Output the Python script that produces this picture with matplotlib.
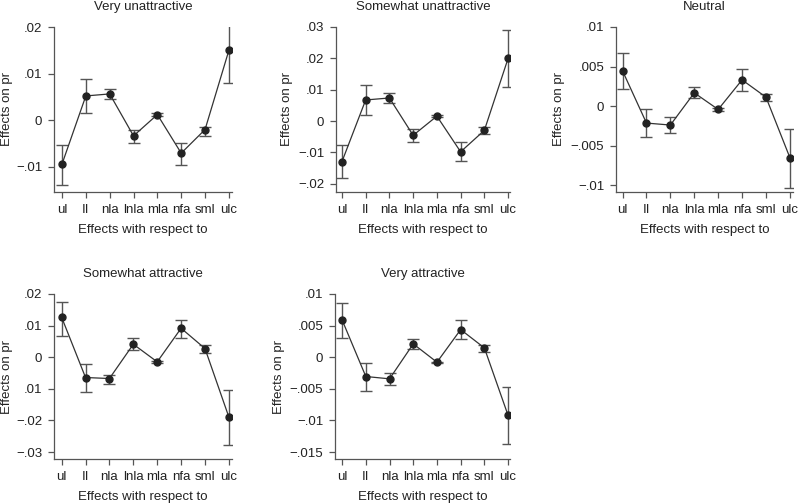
import matplotlib.pyplot as plt

plt.rcParams['font.family'] = ['Liberation Sans', 'DejaVu Sans']

categories = ["ul", "ll", "nla", "lnla", "mla", "nfa", "sml", "ulc"]
cat_labels = ["ul", "ll", "nla", "lnla", "mla", "nfa", "sml", "ulc"]
cat_labels[1] = "II"

titles = ["Very unattractive", "Somewhat unattractive", "Neutral",
          "Somewhat attractive", "Very attractive"]

# point estimates and confidence bounds
very_unattr = [-0.00943, 0.00521, 0.00564, -0.00336, 0.00121, -0.00707, -0.00200, 0.01500]
very_unattr_lo = [-0.01386, 0.00164, 0.00457, -0.00479, 0.00093, -0.00964, -0.00329, 0.00793]
very_unattr_hi = [-0.00529, 0.00893, 0.00679, -0.00200, 0.00150, -0.00493, -0.00136, 0.02214]

some_unattr = [-0.01295, 0.00674, 0.00737, -0.00453, 0.00158, -0.00979, -0.00295, 0.02000]
some_unattr_lo = [-0.01821, 0.00179, 0.00589, -0.00674, 0.00116, -0.01284, -0.00421, 0.01074]
some_unattr_hi = [-0.00758, 0.01158, 0.00884, -0.00242, 0.00210, -0.00663, -0.00179, 0.02905]

neutral = [0.00445, -0.00214, -0.00239, 0.00168, -0.00042, 0.00332, 0.00113, -0.00651]
neutral_lo = [0.00218, -0.00386, -0.00336, 0.00097, -0.00063, 0.00185, 0.00059, -0.01038]
neutral_hi = [0.00672, -0.00038, -0.00143, 0.00244, -0.00021, 0.00471, 0.00155, -0.00286]

some_attr = [0.01263, -0.00642, -0.00674, 0.00411, -0.00147, 0.00916, 0.00274, -0.01895]
some_attr_lo = [0.00674, -0.01105, -0.00863, 0.00242, -0.00179, 0.00611, 0.00147, -0.02768]
some_attr_hi = [0.01758, -0.00200, -0.00558, 0.00611, -0.00116, 0.01189, 0.00389, -0.01032]

very_attr = [0.00589, -0.00305, -0.00342, 0.00211, -0.00079, 0.00437, 0.00147, -0.00921]
very_attr_lo = [0.00300, -0.00537, -0.00442, 0.00132, -0.00095, 0.00284, 0.00084, -0.01374]
very_attr_hi = [0.00858, -0.00089, -0.00242, 0.00295, -0.00068, 0.00589, 0.00200, -0.00474]

yticks = [
    [0.02, 0.01, 0, -0.01],
    [0.03, 0.02, 0.01, 0, -0.01, -0.02],
    [0.01, 0.005, 0, -0.005, -0.01],
    [0.02, 0.01, 0, -0.01, -0.02, -0.03],
    [0.01, 0.005, 0, -0.005, -0.01, -0.015],
]
ytick_labels = [
    [".02", ".01", "0", "\u2212.01"],
    [".03", ".02", ".01", "0", "\u2212.01", "\u2212.02"],
    [".01", ".005", "0", "\u2212.005", "\u2212.01"],
    [".02", ".01", "0", ".01", "\u2212.02", "\u2212.03"],
    [".01", ".005", "0", "\u2212.005", "\u2212.01", "\u2212.015"],
]
ylims = [(-0.0154, 0.02), (-0.0226, 0.03), (-0.01085, 0.01),
         (-0.0322, 0.02), (-0.0161, 0.01)]
xlims = [(-0.335, 7.13), (-0.25, 7.08), (-0.275, 7.13),
         (-0.32, 7.13), (-0.3, 7.08)]

series = [
    (very_unattr, very_unattr_lo, very_unattr_hi),
    (some_unattr, some_unattr_lo, some_unattr_hi),
    (neutral, neutral_lo, neutral_hi),
    (some_attr, some_attr_lo, some_attr_hi),
    (very_attr, very_attr_lo, very_attr_hi),
]

# axes boxes in pixels: left, right, top, bottom
boxes = [(54, 232, 27, 192), (336, 510, 27, 192), (616, 793, 27, 192),
         (54, 232, 294, 459), (335, 510, 294, 459)]
ylabel_x = [7, 287, 559, 7, 279]

W, H = 798, 503
fs = 9.5
fig = plt.figure(figsize=(W / 100, H / 100), dpi=100)

x = list(range(len(categories)))
for i, (est, lo, hi) in enumerate(series):
    l, r, t, b = boxes[i]
    ax = fig.add_axes([l / W, 1 - b / H, (r - l) / W, (b - t) / H])
    yerr = [[e - a for e, a in zip(est, lo)], [c - e for e, c in zip(est, hi)]]
    ax.errorbar(x, est, yerr=yerr, fmt="none", ecolor="#555555",
                elinewidth=1.0, capsize=4, capthick=1.0, zorder=2)
    ax.plot(x, est, color="#333333", lw=0.9, marker="o", ms=5,
            mfc="#222222", mec="#222222", zorder=3)
    ax.set_xlim(*xlims[i])
    ax.set_ylim(*ylims[i])
    ax.set_xticks(x)
    ax.set_xticklabels(cat_labels, fontsize=fs)
    ax.set_yticks(yticks[i])
    ax.set_yticklabels(ytick_labels[i], fontsize=fs)
    for s in ["top", "right"]:
        ax.spines[s].set_visible(False)
    for s in ["left", "bottom"]:
        ax.spines[s].set_color("#555555")
        ax.spines[s].set_linewidth(0.9)
    ax.tick_params(colors="#555555", labelcolor="#222222", length=4.5, width=0.9, pad=4)
    ax.set_title(titles[i], fontsize=fs, color="#222222", pad=12)
    ax.set_xlabel("Effects with respect to", fontsize=fs, color="#222222", labelpad=6)
    ax.set_ylabel("Effects on pr", fontsize=fs, color="#222222", va="center")
    ax.yaxis.set_label_coords((ylabel_x[i] - l) / (r - l), 0.5)

fig.savefig("out.png", dpi=100)
